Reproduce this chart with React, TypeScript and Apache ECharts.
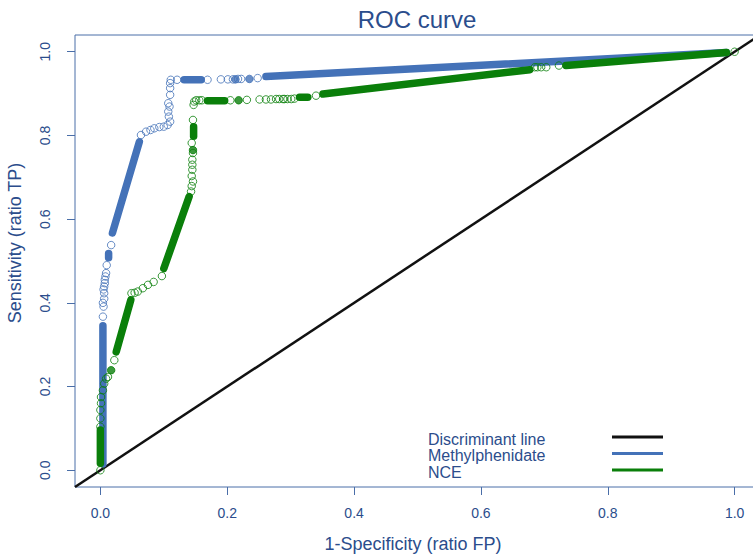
import React, { useEffect, useRef } from "react";
import * as echarts from "echarts";

// ---- data ----
const xTicks = [0, 0.2, 0.4, 0.6, 0.8, 1.0];
const yTicks = [0, 0.2, 0.4, 0.6, 0.8, 1.0];

const discriminantLine = [
  [-0.04, -0.04],
  [1.04, 1.04],
];

// dense stretches of points (drawn as thick runs)
const methRuns = [
  [[0.004, 0.015], [0.004, 0.345]],
  [[0.013, 0.508], [0.013, 0.518]],
  [[0.019, 0.567], [0.0615, 0.785]],
  [[0.132, 0.933], [0.159, 0.933]],
  [[0.261, 0.941], [0.987, 0.998]],
];
const methOpen = [
  [0.004, 0.367], [0.005, 0.391], [0.004, 0.4], [0.006, 0.41], [0.006, 0.423],
  [0.005, 0.432], [0.006, 0.439], [0.007, 0.447], [0.007, 0.455], [0.008, 0.463],
  [0.009, 0.471], [0.01, 0.49], [0.017, 0.538],
  [0.064, 0.801], [0.072, 0.809], [0.079, 0.813], [0.085, 0.817], [0.093, 0.82],
  [0.1, 0.821], [0.106, 0.825], [0.11, 0.833], [0.108, 0.845], [0.107, 0.857],
  [0.109, 0.869], [0.107, 0.877], [0.11, 0.897], [0.11, 0.913], [0.11, 0.925],
  [0.111, 0.933], [0.121, 0.933],
  [0.169, 0.933], [0.19, 0.934], [0.201, 0.934], [0.209, 0.934], [0.217, 0.935],
  [0.222, 0.935], [0.248, 0.937],
];
const methFilled = [[0.213, 0.934], [0.235, 0.935]];

const nceRuns = [
  [[0.0, 0.017], [0.0, 0.096]],
  [[0.025, 0.283], [0.048, 0.407]],
  [[0.1, 0.482], [0.14, 0.654]],
  [[0.147, 0.798], [0.147, 0.821]],
  [[0.169, 0.883], [0.196, 0.883]],
  [[0.314, 0.891], [0.327, 0.891]],
  [[0.351, 0.899], [0.677, 0.957]],
  [[0.734, 0.967], [0.987, 0.998]],
];
const nceOpen = [
  [0, 0], [0, 0.104], [0, 0.124], [0, 0.144], [0.001, 0.16], [0.001, 0.175],
  [0.004, 0.191], [0.006, 0.207], [0.009, 0.219], [0.012, 0.223], [0.022, 0.263],
  [0.049, 0.423], [0.054, 0.424], [0.059, 0.427], [0.067, 0.435], [0.075, 0.443],
  [0.084, 0.45], [0.097, 0.464],
  [0.143, 0.666], [0.144, 0.679], [0.146, 0.69], [0.144, 0.703], [0.145, 0.718],
  [0.145, 0.73], [0.145, 0.742], [0.146, 0.758], [0.144, 0.782], [0.146, 0.837],
  [0.147, 0.873], [0.148, 0.881], [0.151, 0.884], [0.156, 0.884], [0.16, 0.884],
  [0.205, 0.884], [0.231, 0.885], [0.251, 0.886], [0.261, 0.886], [0.269, 0.886],
  [0.277, 0.887], [0.282, 0.887], [0.288, 0.887], [0.29, 0.887], [0.295, 0.887],
  [0.301, 0.887], [0.306, 0.888], [0.34, 0.895],
  [0.685, 0.963], [0.689, 0.963], [0.695, 0.963], [0.703, 0.963], [0.723, 0.967],
  [1.0, 1.0],
];
const nceFilled = [[0.017, 0.239], [0.146, 0.765], [0.218, 0.884]];

const legendNames = ["Discriminant line", "Methylphenidate", "NCE"];

// ---- styles ----
const FONT = "'Liberation Sans', Arial, Helvetica, sans-serif";
const TEXT = "#2b4d8c";
const AXIS = "#4a6ea8";
const BLUE = "#4472b8";
const GREEN = "#0a7f0a";
const BLACK = "#111111";

function runSeries(name: string, runs: number[][][], color: string, z: number) {
  return runs.map((r) => ({
    type: "line",
    name,
    data: r,
    symbol: "none",
    silent: true,
    z,
    lineStyle: { color, width: 7.5, cap: "round" },
  }));
}

function pointSeries(name: string, pts: number[][], color: string, filled: boolean, z: number) {
  return {
    type: "scatter",
    name,
    data: pts,
    symbol: "circle",
    symbolSize: 7.5,
    silent: true,
    z,
    itemStyle: filled
      ? { color, borderColor: color, borderWidth: 1 }
      : { color: "rgba(255,255,255,0)", borderColor: color, borderWidth: 1 },
  };
}

export default function App() {
  const ref = useRef<HTMLDivElement>(null);
  useEffect(() => {
    if (!ref.current) return;
    const chart = echarts.init(ref.current, null, { renderer: "svg" });
    const legendColors = [BLACK, BLUE, GREEN];
    const legendY = [437, 453.5, 470];
    const option: any = {
      animation: false,
      backgroundColor: "#ffffff",
      grid: {
        left: 75,
        top: 35,
        right: 10,
        bottom: 68,
        show: true,
        borderColor: AXIS,
        borderWidth: 1,
        backgroundColor: "transparent",
      },
      xAxis: {
        type: "value",
        min: -0.04,
        max: 1.04,
        position: "bottom",
        axisLine: { show: false, onZero: false },
        splitLine: { show: false },
        axisTick: {
          show: true,
          inside: false,
          length: 8,
          customValues: xTicks,
          lineStyle: { color: AXIS, width: 1 },
        },
        axisLabel: {
          customValues: xTicks,
          margin: 19,
          color: TEXT,
          fontSize: 14,
          fontFamily: FONT,
          formatter: (v: number) => v.toFixed(1),
        },
      },
      yAxis: {
        type: "value",
        min: -0.04,
        max: 1.04,
        position: "left",
        axisLine: { show: false, onZero: false },
        splitLine: { show: false },
        axisTick: {
          show: true,
          inside: false,
          length: 8,
          customValues: yTicks,
          lineStyle: { color: AXIS, width: 1 },
        },
        axisLabel: {
          customValues: yTicks,
          rotate: 90,
          margin: 23,
          color: TEXT,
          fontSize: 14,
          fontFamily: FONT,
          formatter: (v: number) => v.toFixed(1),
        },
      },
      series: [
        {
          type: "line",
          name: legendNames[0],
          data: discriminantLine,
          symbol: "none",
          silent: true,
          z: 1,
          lineStyle: { color: BLACK, width: 2.5 },
        },
        ...runSeries(legendNames[1], methRuns, BLUE, 2),
        pointSeries(legendNames[1], methOpen, BLUE, false, 2),
        pointSeries(legendNames[1], methFilled, BLUE, true, 2),
        ...runSeries(legendNames[2], nceRuns, GREEN, 3),
        pointSeries(legendNames[2], nceOpen, GREEN, false, 3),
        pointSeries(legendNames[2], nceFilled, GREEN, true, 3),
      ],
      graphic: [
        {
          type: "text",
          x: 417,
          y: 19,
          style: {
            text: "ROC curve",
            fill: TEXT,
            font: `24px ${FONT}`,
            textAlign: "center",
            textVerticalAlign: "middle",
          },
        },
        {
          type: "text",
          x: 413,
          y: 544,
          style: {
            text: "1-Specificity (ratio FP)",
            fill: TEXT,
            font: `18px ${FONT}`,
            textAlign: "center",
            textVerticalAlign: "middle",
          },
        },
        {
          type: "text",
          x: 15,
          y: 243,
          rotation: Math.PI / 2,
          style: {
            text: "Sensitivity (ratio TP)",
            fill: TEXT,
            font: `18px ${FONT}`,
            textAlign: "center",
            textVerticalAlign: "middle",
          },
        },
        ...legendNames.map((n, i) => ({
          type: "text",
          x: 428,
          y: legendY[i] + 2,
          style: {
            text: n,
            fill: TEXT,
            font: `16px ${FONT}`,
            textAlign: "left",
            textVerticalAlign: "middle",
          },
        })),
        ...legendNames.map((n, i) => ({
          type: "line",
          shape: { x1: 612, y1: legendY[i], x2: 663, y2: legendY[i] },
          style: { stroke: legendColors[i], lineWidth: 3 },
        })),
      ],
    };
    chart.setOption(option);
    return () => chart.dispose();
  }, []);
  return (
    <div
      ref={ref}
      style={{ position: "fixed", left: 0, top: 0, width: 770, height: 555 }}
    />
  );
}
